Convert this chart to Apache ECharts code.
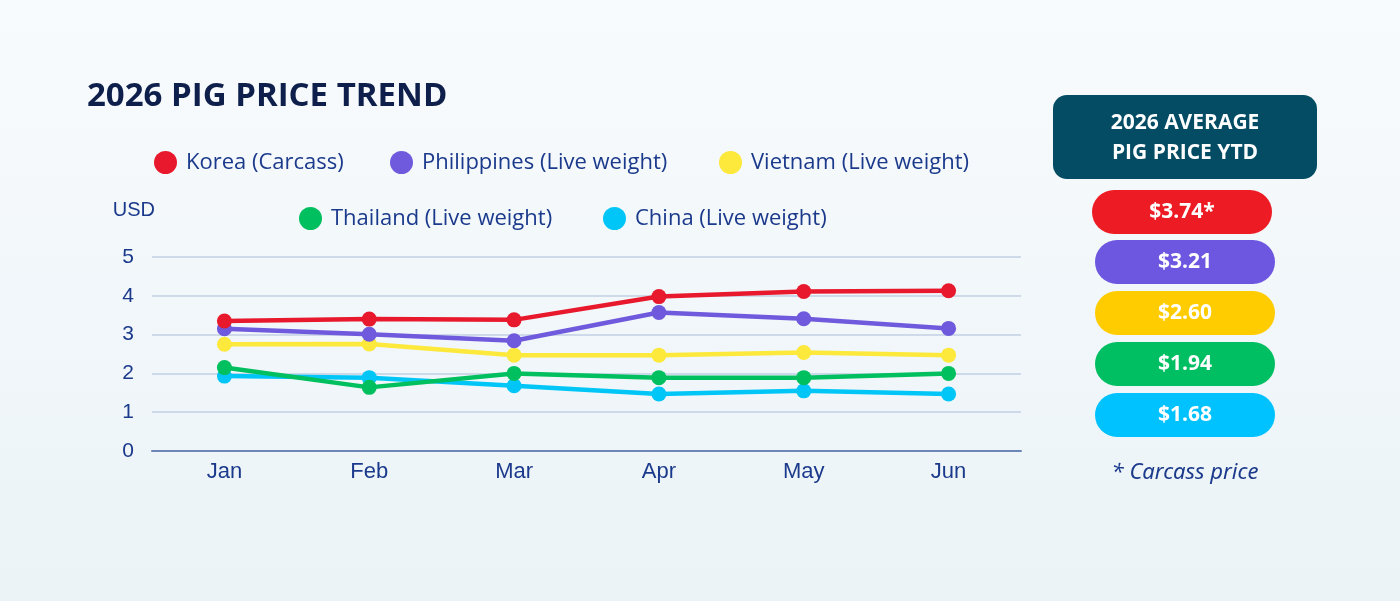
<!DOCTYPE html>
<html lang="en">
<head>
    <meta charset="UTF-8">
    <title>2026 Pig Price Trend</title>
    <script src="https://cdn.jsdelivr.net/npm/echarts@6/dist/echarts.min.js"></script>
    <style>
        html, body { margin: 0; padding: 0; }
        #main { width: 1400px; height: 601px; }
    </style>
</head>
<body>
<div id="main"></div>
<script type="text/javascript">
    // months on the x axis
    var months = ['Jan', 'Feb', 'Mar', 'Apr', 'May', 'Jun'];
    // USD per kg
    var korea = [3.35, 3.40, 3.38, 3.98, 4.11, 4.13];
    var philippines = [3.15, 3.01, 2.84, 3.57, 3.41, 3.16];
    var vietnam = [2.75, 2.76, 2.47, 2.47, 2.54, 2.47];
    var thailand = [2.15, 1.64, 2.00, 1.89, 1.89, 2.00];
    var china = [1.93, 1.89, 1.68, 1.47, 1.55, 1.47];
    var seriesNames = ['Korea (Carcass)', 'Philippines (Live weight)', 'Vietnam (Live weight)',
        'Thailand (Live weight)', 'China (Live weight)'];
    // average YTD boxes on the right
    var averages = ['$3.74*', '$3.21', '$2.60', '$1.94', '$1.68'];
    var yTicks = [0, 1, 2, 3, 4, 5];

    var lineColors = ['#e8192c', '#6f5add', '#fde83c', '#00bf5e', '#00c6f7'];
    var pillColors = ['#ed1c24', '#6e57e0', '#ffcc00', '#00bf63', '#00c2ff'];
    var textBlue = '#1b3a8c';

    var myChart = echarts.init(document.getElementById('main'));

    var allData = [korea, philippines, vietnam, thailand, china];
    var series = [];
    for (var i = 0; i < allData.length; i++) {
        series.push({
            name: seriesNames[i],
            type: 'line',
            data: allData[i],
            symbol: 'circle',
            symbolSize: 15,
            lineStyle: { width: 4.5, color: lineColors[i] },
            itemStyle: { color: lineColors[i] },
            z: 10 - i
        });
    }

    // one legend per entry so they sit where the picture has them
    var legendPos = [[154, 151], [390, 151], [719, 151], [299, 207], [603, 207]];
    var legends = [];
    for (var j = 0; j < seriesNames.length; j++) {
        legends.push({
            data: [seriesNames[j]],
            left: legendPos[j][0],
            top: legendPos[j][1],
            padding: 0,
            icon: 'circle',
            itemWidth: 23,
            itemHeight: 23,
            itemGap: 0,
            textStyle: {
                color: textBlue, fontSize: 22, fontFamily: 'Open Sans',
                lineHeight: 23, padding: [0, 0, 0, 4]
            }
        });
    }

    // right hand panel
    var graphics = [
        {
            type: 'rect',
            shape: { x: 1053, y: 95, width: 264, height: 84, r: 14 },
            style: { fill: '#034c64' }
        },
        {
            type: 'text',
            x: 1185, y: 138,
            style: {
                text: '2026 AVERAGE\nPIG PRICE YTD', fill: '#ffffff',
                font: 'bold 21px "Open Sans"', lineHeight: 30,
                align: 'center', verticalAlign: 'middle'
            }
        }
    ];
    var pillTops = [190, 240, 291, 342, 393];
    for (var k = 0; k < averages.length; k++) {
        graphics.push({
            type: 'rect',
            shape: { x: k === 0 ? 1092 : 1095, y: pillTops[k], width: 180, height: 44, r: 22 },
            style: { fill: pillColors[k] }
        });
        graphics.push({
            type: 'text',
            x: k === 0 ? 1182 : 1185, y: pillTops[k] + 22,
            style: {
                text: averages[k], fill: '#ffffff',
                font: 'bold 21px "Open Sans"',
                align: 'center', verticalAlign: 'middle'
            }
        });
    }
    graphics.push({
        type: 'text',
        x: 1185, y: 473,
        style: {
            text: '* Carcass price', fill: textBlue,
            font: 'italic 22px "Noto Sans"',
            align: 'center', verticalAlign: 'middle'
        }
    });

    myChart.setOption({
        backgroundColor: {
            type: 'linear', x: 0, y: 0, x2: 0, y2: 1,
            colorStops: [{ offset: 0, color: '#f8fbfd' }, { offset: 1, color: '#ebf3f7' }]
        },
        title: {
            text: '2026 PIG PRICE TREND',
            left: 87,
            top: 80,
            padding: 0,
            textStyle: { color: '#0e1f4b', fontSize: 33, fontWeight: 'bold', fontFamily: 'Open Sans' }
        },
        legend: legends,
        grid: { left: 152, right: 379, top: 257, bottom: 150 },
        xAxis: {
            type: 'category',
            data: months,
            axisLine: { lineStyle: { color: '#6d86b8', width: 2 } },
            axisTick: { show: false },
            axisLabel: { color: textBlue, fontSize: 22, margin: 10, fontFamily: 'Liberation Sans' }
        },
        yAxis: {
            type: 'value',
            min: yTicks[0],
            max: yTicks[yTicks.length - 1],
            interval: 1,
            name: 'USD',
            nameGap: 37,
            nameTextStyle: { color: textBlue, fontSize: 20, align: 'right', padding: [0, -3, 0, 0], fontFamily: 'Liberation Sans' },
            axisLine: { show: false },
            axisTick: { show: false },
            splitLine: { lineStyle: { color: '#c2cfe3', width: 1.5 } },
            axisLabel: { color: textBlue, fontSize: 21, margin: 18, fontFamily: 'Liberation Sans' }
        },
        graphic: graphics,
        series: series
    });
</script>
</body>
</html>
